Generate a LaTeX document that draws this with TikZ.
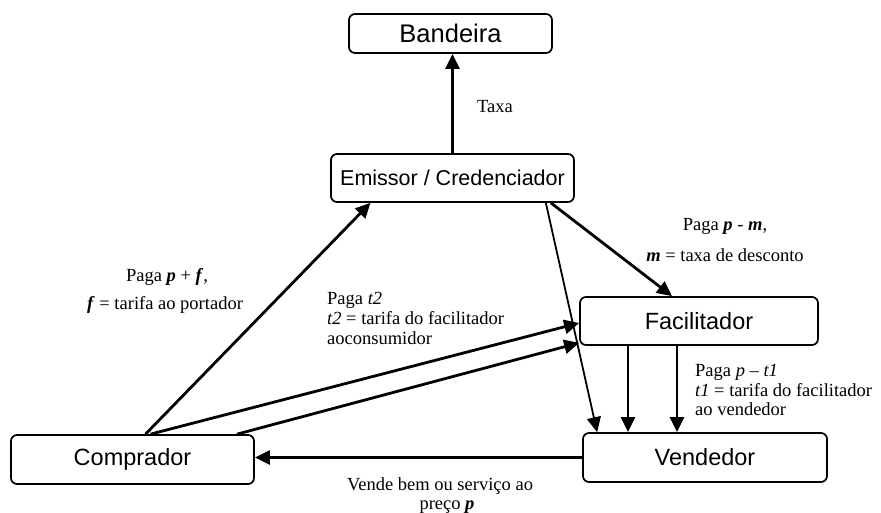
\documentclass[tikz,border=0pt]{standalone}
\usepackage{fontspec}
\setmainfont{Liberation Serif}
\setsansfont{Liberation Sans}
\usetikzlibrary{arrows.meta}
\newcommand{\varbi}[1]{\textbf{\textit{#1}}}
\begin{document}
\begin{tikzpicture}[x=1pt,y=-1pt,
  box/.style={draw,line width=1.7pt,rounded corners=6pt,inner sep=0pt,font=\sffamily\fontsize{23.5}{26}\selectfont},
  lbl/.style={inner sep=0pt,font=\fontsize{18.5}{20}\selectfont},
  seta/.style={line width=2.8pt,-{Triangle[length=15pt,width=14pt]}}]
\useasboundingbox (0,0) rectangle (881,513);
\node(bandeira) at (450.5,33.5)[box,minimum width=203pt,minimum height=39pt,font=\sffamily\fontsize{25.5}{28}\selectfont]      {Bandeira};
\node(emissor) at (452.5,178)[box,minimum width=243pt,minimum height=48pt,font=\sffamily\fontsize{21.5}{24}\selectfont]      {Emissor / Credenciador};
\node(facilitador) at (699,321)[box,minimum width=238pt,minimum height=48pt]      {Facilitador};
\node(vendedor) at (705,457.5)[box,minimum width=244pt,minimum height=49pt]      {Vendedor};
\node(comprador) at (132.5,459.5)[box,minimum width=243pt,minimum height=49pt]      {Comprador};
\node(taxa) at (477,107)[lbl,anchor=west]      {Taxa};
\node(pagaf) at (167,277)[lbl]      {Paga \varbi{p} + \varbi{f},};
\node(tarifaf) at (165,305)[lbl]      {\varbi{f} = tarifa ao portador};
\node(pagat2) at (327,318)[lbl,anchor=west,align=left]      {Paga \textit{t2}\\\textit{t2} = tarifa do facilitador\\aoconsumidor};
\node(pagam) at (725,226)[lbl]      {Paga \varbi{p} - \varbi{m},};
\node(taxam) at (725,255)[lbl]      {\varbi{m} = taxa de desconto};
\node(pagat1) at (695,390)[lbl,anchor=west,align=left,font=\fontsize{18.5}{19.5}\selectfont]      {Paga \textit{p} – \textit{t1}\\\textit{t1} = tarifa do facilitador\\ao vendedor};
\node(vende) at (440,486)[lbl]      {Vende bem ou serviço ao};
\node(preco) at (447,507)[lbl]      {preço \varbi{p}};
\path [seta]
  (emissor.north)                    edge   (emissor.north |- bandeira.south)
  ([xshift=13pt]comprador.north)     edge   ([xshift=-82pt]emissor.south)
  ([xshift=18pt]comprador.north)     edge   ([yshift=-2pt]facilitador.west)
  ([xshift=104.5pt]comprador.north)  edge   ([yshift=3pt]facilitador.south west)
  ([xshift=-24pt]emissor.south east) edge   ([xshift=-27pt]facilitador.north)
  ([xshift=-71pt]facilitador.south)  edge   ([xshift=-71pt]facilitador.south |- vendedor.north)
  ([xshift=-22pt]facilitador.south)  edge   ([xshift=-22pt]facilitador.south |- vendedor.north)
  (vendedor.west)                    edge   (vendedor.west -| comprador.east);
\path [seta,line width=1.8pt]
  ([xshift=-29pt]emissor.south east) edge   ([xshift=15pt]vendedor.north west);
\end{tikzpicture}
\end{document}
